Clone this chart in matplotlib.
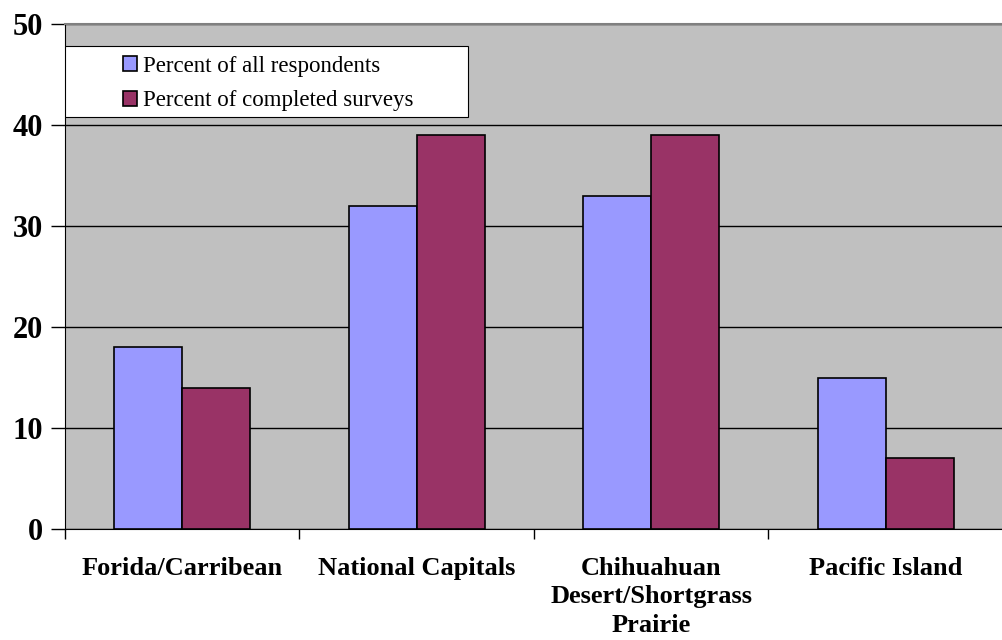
import numpy as np
import matplotlib.pyplot as plt
from matplotlib.patches import Rectangle

plt.rcParams['font.family'] = ['Liberation Serif', 'DejaVu Serif']

# data
regions = ['Forida/Carribean', 'National Capitals',
           'Chihuahuan\nDesert/Shortgrass\nPrairie', 'Pacific Island']
all_respondents = [18, 32, 33, 15]
completed_surveys = [14, 39, 39, 7]
series_names = ['Percent of all respondents', 'Percent of completed surveys']
colors = ['#9999FF', '#993366']

fig = plt.figure(figsize=(10.03, 6.4), dpi=100)
ax = fig.add_axes([0.0648, 0.1734, 0.935, 0.7891])
ax.set_facecolor('#C0C0C0')

x = np.arange(len(regions))
w = 0.29
ax.bar(x - w/2, all_respondents, w, color=colors[0], edgecolor='black',
       linewidth=1.2, label=series_names[0], zorder=3)
ax.bar(x + w/2, completed_surveys, w, color=colors[1], edgecolor='black',
       linewidth=1.2, label=series_names[1], zorder=3)

ax.set_xlim(-0.5, len(regions) - 0.5)
ax.set_ylim(0, 50)
ax.set_yticks(range(0, 51, 10))
ax.yaxis.grid(True, color='black', linewidth=1.0, zorder=0)
ax.set_axisbelow(True)

# category labels centred, tick marks between categories
ax.set_xticks(x)
ax.set_xticklabels(regions, fontsize=19, fontweight='bold', linespacing=1.3)
ax.tick_params(axis='x', length=0, pad=20)
ax.set_xticks(np.arange(-0.5, len(regions)), minor=True)
ax.tick_params(axis='x', which='minor', length=7, width=1.0, color='black')
ax.tick_params(axis='y', length=10, width=1.0, labelsize=22, pad=6)
for t in ax.get_yticklabels():
    t.set_fontweight('bold')

ax.spines['right'].set_visible(False)
ax.spines['top'].set_color('#808080')
ax.spines['top'].set_linewidth(1.5)
ax.spines['left'].set_color('black')
ax.spines['bottom'].set_color('black')

# white legend box, entries shifted right like the original
box = Rectangle((0.0, 0.816), 0.43, 0.14, transform=ax.transAxes,
                facecolor='white', edgecolor='black', linewidth=0.8, zorder=4)
ax.add_patch(box)
leg = ax.legend(loc='center left', bbox_to_anchor=(0.062, 0.882),
                fontsize=16.5, frameon=False, borderpad=0,
                handlelength=0.6, handleheight=0.6, handletextpad=0.25,
                labelspacing=0.6, borderaxespad=0)
leg.set_zorder(5)
for h in leg.legend_handles:
    h.set_linewidth(1.2)

fig.savefig('out.png', dpi=100)
